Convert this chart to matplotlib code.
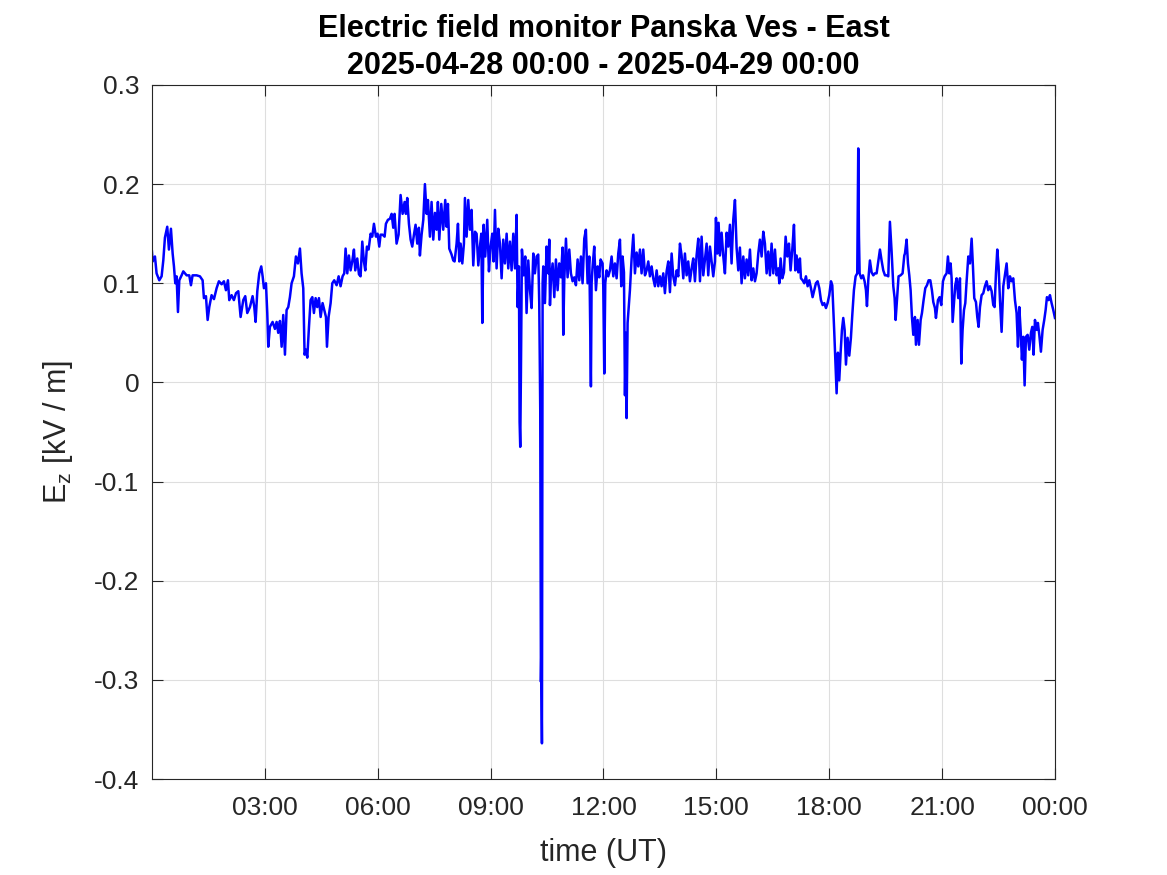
import matplotlib
matplotlib.use("Agg")
import matplotlib.pyplot as plt
import numpy as np

plt.rcParams['font.family'] = ['Liberation Sans', 'DejaVu Sans']
plt.rcParams['mathtext.fontset'] = 'custom'
plt.rcParams['mathtext.rm'] = 'Liberation Sans'
plt.rcParams['mathtext.it'] = 'Liberation Sans'

# E_z readings, (minutes after 00:00 UT, kV/m)
seg_00_04 = [(0.0, 0.132), (1.1, 0.122), (4.8, 0.127), (7.4, 0.110), (11.7, 0.103), (15.4, 0.107),
             (18.1, 0.123), (20.7, 0.146), (24.4, 0.157), (27.1, 0.134), (30.3, 0.155), (33.0, 0.130),
             (35.1, 0.117), (37.2, 0.100), (39.3, 0.107), (41.5, 0.071), (43.6, 0.103), (47.3, 0.108),
             (50.0, 0.112), (55.3, 0.108), (59.5, 0.108), (62.2, 0.098), (64.8, 0.108), (71.2, 0.108),
             (76.5, 0.107), (80.8, 0.103), (82.9, 0.085), (86.1, 0.087), (88.8, 0.063), (91.4, 0.076),
             (95.1, 0.088), (98.9, 0.084), (103.1, 0.095), (106.8, 0.102), (111.1, 0.099), (114.8, 0.102),
             (118.0, 0.093), (121.2, 0.103), (123.3, 0.083), (127.0, 0.088), (130.7, 0.083), (134.0, 0.090),
             (137.7, 0.092), (141.4, 0.066), (145.6, 0.083), (148.8, 0.087), (152.0, 0.070), (156.3, 0.076),
             (160.5, 0.087), (163.2, 0.076), (165.3, 0.061), (168.0, 0.092), (171.1, 0.110), (174.3, 0.117),
             (176.5, 0.107), (178.6, 0.095), (181.8, 0.100), (183.9, 0.070), (185.5, 0.036), (188.1, 0.056),
             (192.4, 0.061), (196.1, 0.054), (198.8, 0.061), (201.4, 0.050), (204.1, 0.062), (206.8, 0.036),
             (209.4, 0.068), (212.1, 0.028), (214.7, 0.073), (217.4, 0.076), (220.0, 0.086), (222.7, 0.100),
             (226.4, 0.107), (229.6, 0.127), (232.8, 0.120), (236.0, 0.135), (238.6, 0.110), (241.3, 0.095)]

seg_04_08 = [(243.4, 0.028), (245.6, 0.033), (247.7, 0.025), (250.4, 0.056), (253.0, 0.083), (255.7, 0.086),
             (258.3, 0.070), (261.0, 0.085), (263.6, 0.076), (266.3, 0.085), (269.0, 0.066), (272.1, 0.080),
             (274.8, 0.073), (277.5, 0.066), (279.1, 0.036), (281.7, 0.066), (284.9, 0.080), (287.6, 0.100),
             (290.7, 0.103), (294.5, 0.098), (297.7, 0.107), (300.8, 0.097), (304.0, 0.107), (306.7, 0.110),
             (308.8, 0.135), (311.5, 0.110), (314.1, 0.128), (316.8, 0.113), (319.4, 0.122), (322.1, 0.134),
             (324.2, 0.113), (327.4, 0.125), (330.1, 0.109), (332.7, 0.107), (335.4, 0.142), (338.0, 0.122),
             (340.2, 0.113), (342.8, 0.137), (345.5, 0.134), (348.7, 0.150), (351.3, 0.147), (354.0, 0.160),
             (357.2, 0.147), (359.8, 0.150), (362.5, 0.137), (364.6, 0.149), (367.8, 0.149), (371.0, 0.147),
             (373.1, 0.160), (376.3, 0.164), (379.5, 0.165), (382.2, 0.170), (384.8, 0.156), (386.9, 0.170),
             (390.1, 0.140), (393.3, 0.149), (396.5, 0.189), (399.7, 0.170), (402.9, 0.182), (405.0, 0.170),
             (407.1, 0.186), (409.8, 0.160), (412.5, 0.144), (415.1, 0.137), (417.8, 0.149), (420.4, 0.159),
             (423.1, 0.140), (425.7, 0.156), (427.3, 0.128), (430.0, 0.149), (432.7, 0.164), (435.3, 0.200),
             (438.0, 0.170), (440.1, 0.184), (443.3, 0.147), (445.9, 0.182), (448.6, 0.144), (451.3, 0.171),
             (453.9, 0.154), (456.0, 0.182), (458.2, 0.144), (461.4, 0.180), (464.5, 0.154), (467.7, 0.184),
             (469.9, 0.157), (472.0, 0.180), (474.1, 0.135), (477.8, 0.129), (480.5, 0.123)]

seg_08_12 = [(482.6, 0.122), (485.8, 0.140), (488.0, 0.160), (490.1, 0.122), (492.2, 0.140), (494.9, 0.120),
             (497.5, 0.140), (499.1, 0.186), (501.8, 0.147), (504.4, 0.184), (507.1, 0.154), (509.7, 0.174),
             (512.4, 0.118), (515.1, 0.152), (517.7, 0.150), (520.4, 0.118), (523.0, 0.137), (525.2, 0.150),
             (526.8, 0.060), (528.9, 0.159), (531.5, 0.127), (534.7, 0.164), (537.4, 0.112), (540.0, 0.137),
             (542.7, 0.150), (544.8, 0.122), (547.0, 0.174), (549.6, 0.115), (552.3, 0.155), (554.9, 0.140),
             (557.6, 0.105), (560.2, 0.144), (562.9, 0.120), (565.6, 0.150), (568.2, 0.115), (570.9, 0.142),
             (573.5, 0.113), (576.2, 0.150), (578.9, 0.115), (581.5, 0.169), (583.1, 0.076), (585.2, 0.117),
             (586.3, -0.040), (587.3, -0.065), (588.4, 0.010), (590.0, 0.134), (592.7, 0.108), (595.3, 0.127),
             (597.4, 0.070), (600.1, 0.123), (602.8, 0.093), (605.4, 0.075), (608.1, 0.130), (610.7, 0.110),
             (613.4, 0.127), (616.0, 0.129), (617.6, 0.080), (619.2, -0.028), (620.3, -0.302), (620.8, -0.278),
             (621.9, -0.364), (623.0, 0.100), (624.0, 0.117), (626.7, 0.080), (629.3, 0.137), (632.0, 0.110),
             (633.6, 0.144), (634.7, 0.078), (636.2, 0.103), (638.9, 0.120), (641.6, 0.086), (644.2, 0.124),
             (646.9, 0.093), (649.5, 0.120), (652.2, 0.106), (654.8, 0.136), (655.9, 0.048), (657.5, 0.103),
             (660.2, 0.145), (662.8, 0.106), (665.5, 0.134), (668.1, 0.110), (670.8, 0.102), (673.5, 0.106),
             (676.1, 0.098), (678.8, 0.124), (681.4, 0.103), (684.1, 0.127), (686.7, 0.100), (689.4, 0.145),
             (692.0, 0.154), (694.7, 0.100), (697.4, 0.127), (698.4, 0.080), (700.0, -0.004), (701.1, 0.100),
             (702.7, 0.117), (705.3, 0.137), (708.0, 0.093), (710.7, 0.117), (713.3, 0.106), (715.4, 0.124),
             (718.6, 0.120)]

seg_12_16 = [(719.7, 0.097), (721.3, 0.009), (722.9, 0.100), (725.0, 0.113), (727.7, 0.107), (730.3, 0.113),
             (733.0, 0.127), (735.7, 0.107), (738.3, 0.120), (741.0, 0.105), (743.6, 0.130), (746.3, 0.144),
             (748.4, 0.097), (750.5, 0.127), (752.7, 0.111), (754.3, -0.013), (755.8, 0.050), (756.9, -0.036),
             (758.5, 0.060), (762.2, 0.093), (764.9, 0.125), (767.6, 0.149), (770.2, 0.110), (772.9, 0.131),
             (775.5, 0.117), (778.2, 0.134), (780.8, 0.110), (783.5, 0.134), (786.2, 0.108), (788.8, 0.113),
             (791.5, 0.122), (794.1, 0.107), (796.8, 0.117), (799.4, 0.105), (802.1, 0.097), (804.8, 0.113),
             (807.4, 0.097), (810.1, 0.107), (812.7, 0.097), (815.4, 0.110), (818.0, 0.090), (820.7, 0.112),
             (823.4, 0.122), (826.0, 0.091), (828.7, 0.130), (831.3, 0.107), (834.0, 0.098), (836.7, 0.113),
             (839.3, 0.107), (842.0, 0.140), (844.6, 0.128), (847.3, 0.105), (849.9, 0.130), (852.6, 0.108),
             (855.2, 0.122), (857.9, 0.102), (860.6, 0.115), (863.2, 0.125), (865.9, 0.102), (868.5, 0.128),
             (871.2, 0.145), (873.9, 0.102), (876.5, 0.147), (879.2, 0.108), (881.8, 0.124), (884.5, 0.140),
             (887.1, 0.108), (889.8, 0.137), (892.5, 0.122), (895.1, 0.107), (897.8, 0.122), (899.4, 0.166),
             (901.5, 0.130), (903.6, 0.161), (905.7, 0.128), (908.4, 0.151), (911.1, 0.127), (913.7, 0.110),
             (916.4, 0.151), (919.0, 0.137), (921.7, 0.159), (924.3, 0.120), (927.0, 0.164), (929.7, 0.184),
             (932.3, 0.136), (935.0, 0.113), (937.6, 0.136), (940.3, 0.100), (943.0, 0.127), (945.6, 0.105),
             (948.3, 0.124), (950.9, 0.108), (953.6, 0.134), (956.2, 0.103), (958.9, 0.115)]

seg_16_20 = [(961.6, 0.102), (964.2, 0.110), (966.9, 0.130), (969.5, 0.144), (972.2, 0.127), (974.9, 0.152),
             (977.5, 0.140), (980.2, 0.110), (982.8, 0.132), (985.5, 0.108), (988.1, 0.140), (990.8, 0.110),
             (993.5, 0.134), (996.1, 0.108), (998.8, 0.115), (1000.4, 0.100), (1002.5, 0.125), (1005.2, 0.105),
             (1007.8, 0.111), (1010.5, 0.147), (1013.1, 0.127), (1015.8, 0.140), (1018.4, 0.113), (1021.1, 0.134),
             (1023.8, 0.159), (1025.9, 0.113), (1028.0, 0.128), (1030.7, 0.111), (1033.3, 0.125), (1034.9, 0.105),
             (1037.6, 0.103), (1040.2, 0.100), (1042.9, 0.107), (1045.6, 0.097), (1048.2, 0.103), (1050.9, 0.095),
             (1053.5, 0.086), (1056.2, 0.093), (1058.8, 0.100), (1061.5, 0.102), (1064.2, 0.095), (1066.8, 0.083),
             (1069.5, 0.078), (1072.1, 0.080), (1074.8, 0.075), (1077.4, 0.080), (1080.1, 0.088), (1082.8, 0.102),
             (1084.9, 0.098), (1086.5, 0.075), (1088.1, 0.050), (1090.2, 0.014), (1091.8, -0.011), (1093.9, 0.030),
             (1096.0, 0.002), (1098.2, 0.030), (1100.3, 0.053), (1102.4, 0.065), (1104.6, 0.053), (1106.7, 0.018),
             (1109.3, 0.045), (1112.0, 0.027), (1114.6, 0.045), (1116.8, 0.068), (1119.4, 0.093), (1122.1, 0.107),
             (1124.7, 0.110), (1126.3, 0.236), (1127.4, 0.148), (1128.5, 0.110), (1131.1, 0.105), (1133.8, 0.108),
             (1136.4, 0.102), (1138.6, 0.093), (1140.2, 0.077), (1142.3, 0.103), (1144.9, 0.123), (1147.6, 0.111),
             (1150.3, 0.108), (1152.9, 0.110), (1155.6, 0.110), (1158.2, 0.122), (1160.9, 0.134), (1163.5, 0.123),
             (1166.2, 0.113), (1168.9, 0.108), (1171.5, 0.108), (1174.2, 0.107), (1176.8, 0.162), (1179.5, 0.132),
             (1182.2, 0.097), (1184.3, 0.085), (1185.9, 0.063), (1188.0, 0.083), (1190.6, 0.107), (1193.8, 0.108),
             (1197.0, 0.110), (1199.7, 0.128)]

seg_20_24 = [(1200.8, 0.130), (1203.4, 0.144), (1205.6, 0.120), (1207.7, 0.108), (1209.8, 0.093), (1211.9, 0.066),
             (1214.1, 0.048), (1216.7, 0.066), (1218.3, 0.038), (1221.0, 0.063), (1223.1, 0.038), (1225.8, 0.063),
             (1227.9, 0.070), (1230.5, 0.083), (1233.2, 0.095), (1235.9, 0.098), (1238.5, 0.103), (1241.2, 0.103),
             (1243.8, 0.093), (1246.0, 0.081), (1248.6, 0.075), (1250.2, 0.065), (1253.4, 0.083), (1256.0, 0.086),
             (1258.7, 0.078), (1261.4, 0.102), (1264.0, 0.107), (1267.2, 0.110), (1269.3, 0.127), (1271.5, 0.110),
             (1273.6, 0.120), (1275.2, 0.105), (1276.8, 0.061), (1278.9, 0.080), (1281.0, 0.098), (1283.2, 0.105),
             (1285.8, 0.085), (1288.5, 0.105), (1290.6, 0.019), (1292.7, 0.053), (1294.9, 0.073), (1297.0, 0.080),
             (1299.1, 0.102), (1301.8, 0.127), (1304.4, 0.120), (1307.1, 0.145), (1309.2, 0.117), (1311.3, 0.085),
             (1314.0, 0.081), (1316.1, 0.066), (1318.2, 0.056), (1320.4, 0.076), (1323.0, 0.088), (1325.7, 0.090),
             (1328.3, 0.097), (1331.0, 0.102), (1333.6, 0.093), (1336.3, 0.097), (1339.0, 0.092), (1341.6, 0.078),
             (1343.7, 0.076), (1345.9, 0.110), (1348.0, 0.134), (1350.1, 0.117), (1352.3, 0.083), (1354.9, 0.051),
             (1357.6, 0.097), (1360.2, 0.108), (1362.9, 0.120), (1365.5, 0.095), (1368.2, 0.107), (1370.9, 0.102),
             (1373.5, 0.105), (1376.2, 0.083), (1378.8, 0.070), (1381.0, 0.036), (1383.1, 0.076), (1385.2, 0.053),
             (1387.3, 0.023), (1389.5, 0.046), (1391.6, -0.003), (1393.7, 0.046), (1396.4, 0.048), (1399.0, 0.033),
             (1401.7, 0.050), (1403.8, 0.056), (1405.9, 0.028), (1408.1, 0.063), (1410.7, 0.053), (1412.8, 0.060),
             (1415.0, 0.048), (1417.6, 0.031), (1420.3, 0.053), (1422.9, 0.063), (1425.1, 0.073), (1427.2, 0.086),
             (1429.8, 0.083), (1432.0, 0.088), (1434.6, 0.080), (1437.3, 0.073), (1440.0, 0.065)]

x_ticks_h = [3, 6, 9, 12, 15, 18, 21, 24]
x_tick_labels = ['03:00', '06:00', '09:00', '12:00', '15:00', '18:00', '21:00', '00:00']
y_ticks = [-0.4, -0.3, -0.2, -0.1, 0.0, 0.1, 0.2, 0.3]
y_tick_labels = ['-0.4', '-0.3', '-0.2', '-0.1', '0', '0.1', '0.2', '0.3']

data = np.array(seg_00_04 + seg_04_08 + seg_08_12 + seg_12_16 + seg_16_20 + seg_20_24)
t_hours = data[:, 0] / 60.0
ez = data[:, 1]

dark = '#262626'
fig = plt.figure(figsize=(11.67, 8.75), dpi=100)
ax = fig.add_axes([0.1302, 0.1097, 0.7738, 0.7932])
ax.plot(t_hours, ez, color=(0, 0, 1), linewidth=1.8)

ax.set_xlim(0, 24)
ax.set_ylim(-0.4, 0.3)
ax.set_xticks(x_ticks_h)
ax.set_xticklabels(x_tick_labels)
ax.set_yticks(y_ticks)
ax.set_yticklabels(y_tick_labels)
ax.grid(True, color='#dedede', linewidth=0.8)
ax.set_axisbelow(True)
ax.tick_params(direction='in', length=8, width=0.8, colors=dark, labelsize=19,
               top=True, right=True)
ax.tick_params(axis='x', pad=12)
ax.tick_params(axis='y', pad=9)
for s in ax.spines.values():
    s.set_color(dark)
    s.set_linewidth(0.8)

ax.set_xlabel('time (UT)', fontsize=22, color=dark, labelpad=13)
ax.set_ylabel(r'E$_\mathrm{z}$ [kV / m]', fontsize=22, color=dark, labelpad=14)
ax.set_title('Electric field monitor Panska Ves - East\n2025-04-28 00:00 - 2025-04-29 00:00',
             fontsize=22, fontweight='bold', linespacing=1.3, pad=8)

plt.savefig('out.png', dpi=100)
